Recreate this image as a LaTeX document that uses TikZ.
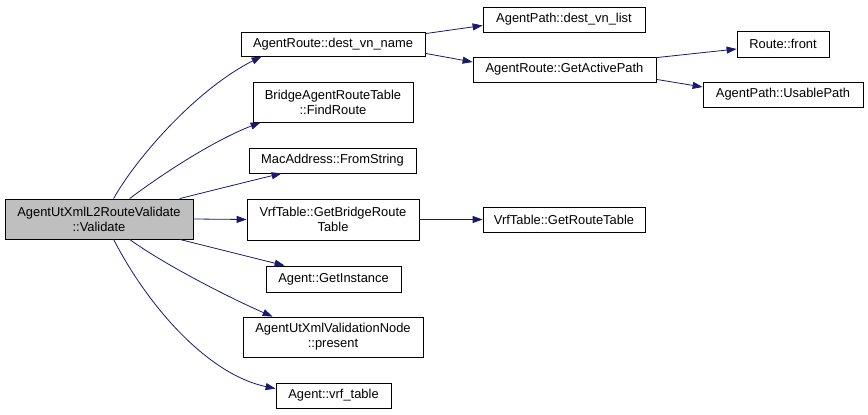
\documentclass[tikz,border=0pt]{standalone}
\usepackage{fontspec}
\setmainfont{Liberation Sans}
\usetikzlibrary{arrows.meta}
\definecolor{edgeblue}{HTML}{191970}
\definecolor{mainfill}{HTML}{BFBFBF}
\begin{document}
\begin{tikzpicture}[x=1pt,y=-1pt,
  box/.style={draw=black, line width=0.8pt, fill=white, inner sep=0pt, align=center,
    font=\fontsize{12.9}{15}\selectfont},
  edge/.style={draw=edgeblue, line width=0.8pt, -{Triangle[length=10pt,width=7pt]}}]
\useasboundingbox (0,0) rectangle (868,415);
\node[box, fill=mainfill, minimum width=188pt, minimum height=40pt] (main) at (99,219) {AgentUtXmlL2RouteValidate\\::Validate};
\node[box, minimum width=184pt, minimum height=24pt] (dvn) at (333,44) {AgentRoute::dest\_vn\_name};
\node[box, minimum width=162pt, minimum height=25pt] (dvl) at (564,19.5) {AgentPath::dest\_vn\_list};
\node[box, minimum width=183pt, minimum height=25pt] (gap) at (564.5,69.5) {AgentRoute::GetActivePath};
\node[box, minimum width=92pt, minimum height=26pt] (front) at (783,44) {Route::front};
\node[box, minimum width=160pt, minimum height=25pt] (usable) at (783,94.5) {AgentPath::UsablePath};
\node[box, minimum width=160pt, minimum height=40pt] (find) at (333,102) {BridgeAgentRouteTable\\::FindRoute};
\node[box, minimum width=167pt, minimum height=25pt] (mac) at (332.5,160.5) {MacAddress::FromString};
\node[box, minimum width=172pt, minimum height=41pt] (gbrt) at (333,219.5) {VrfTable::GetBridgeRoute\\Table};
\node[box, minimum width=162pt, minimum height=25pt] (grt) at (564,219.5) {VrfTable::GetRouteTable};
\node[box, minimum width=135pt, minimum height=26pt] (inst) at (333.5,279) {Agent::GetInstance};
\node[box, minimum width=180pt, minimum height=40pt] (present) at (333,337) {AgentUtXmlValidationNode\\::present};
\node[box, minimum width=115pt, minimum height=25pt] (vrf) at (333.5,395.5) {Agent::vrf\_table};

\draw[edge] ([xshift=109pt]main.north west) .. controls (135,160) and (195,90) .. ([xshift=21pt]dvn.south west);
\draw[edge] ([xshift=125pt]main.north west) .. controls (165,172) and (215,140) .. ([xshift=8pt]find.south west);
\draw[edge] ([xshift=175pt]main.north west) .. controls (210,191) and (250,181) .. ([xshift=33pt]mac.south west);
\draw[edge] (main.east) -- (gbrt.west);
\draw[edge] ([xshift=175pt]main.south west) .. controls (210,247) and (250,257) .. ([xshift=19pt]inst.north west);
\draw[edge] ([xshift=125pt]main.south west) .. controls (165,265) and (230,298) .. ([xshift=30pt]present.north west);
\draw[edge] ([xshift=109pt]main.south west) .. controls (150,310) and (210,375) .. ([yshift=-6pt]vrf.north west);
\draw[edge] ([yshift=-2pt]dvn.north east) -- ([yshift=-6pt]dvl.west);
\draw[edge] ([yshift=3pt]dvn.south east) -- ([yshift=7.5pt]gap.west);
\draw[edge] ([yshift=-1pt]gap.north east) -- ([yshift=-5pt]front.west);
\draw[edge] ([yshift=3pt]gap.south east) -- ([yshift=7.5pt]usable.west);
\draw[edge] (gbrt.east) -- (grt.west);
\end{tikzpicture}
\end{document}
